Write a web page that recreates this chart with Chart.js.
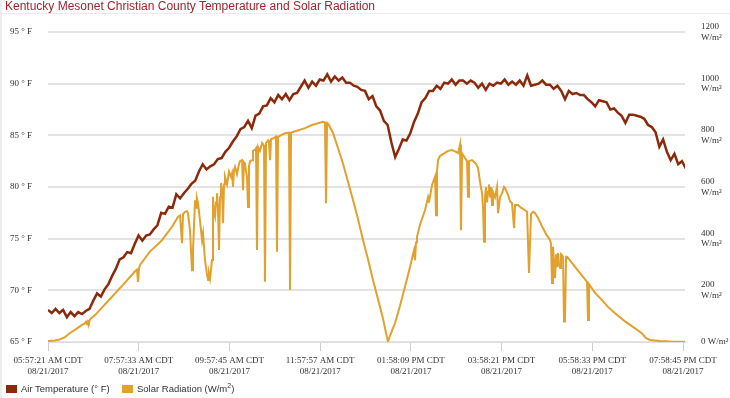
<!DOCTYPE html>
<html>
<head>
<meta charset="utf-8">
<title>Kentucky Mesonet Christian County Temperature and Solar Radiation</title>
<script src="https://cdn.jsdelivr.net/npm/chart.js@4.4.1/dist/chart.umd.min.js"></script>
<style>
  html, body { margin: 0; padding: 0; background: #fff; }
  #wrap { position: relative; width: 730px; height: 398px; overflow: hidden; }
  #edge { position: absolute; left: 0; top: 0; width: 2px; height: 398px; background: #eeeeee; }
  #title { position: absolute; left: 5px; top: -1px; font: 12px "Liberation Sans", Arial, sans-serif; color: #a3232f; white-space: nowrap; line-height: 14px; }
  #rule { position: absolute; left: 0; top: 13px; width: 730px; height: 1px; background: #ececec; }
  canvas { position: absolute; left: 0; top: 0; }
  .key { position: absolute; top: 383px; font: 9.5px "Liberation Sans", Arial, sans-serif; color: #333; white-space: nowrap; line-height: 12px; }
  .key span { display: inline-block; width: 11px; height: 8px; margin-right: 4px; vertical-align: -1px; }
</style>
</head>
<body>
<div id="wrap">
  <canvas id="chart" width="730" height="398"></canvas>
  <div id="edge"></div>
  <div id="title">Kentucky Mesonet Christian County Temperature and Solar Radiation</div>
  <div id="rule"></div>
  <div class="key" style="left:6px"><span style="background:#8b2a0b"></span>Air Temperature (° F)</div>
  <div class="key" style="left:122px"><span style="background:#e2a02c"></span>Solar Radiation (W/m<sup style="font-size:7px;line-height:0">2</sup>)</div>
</div>
<script>
// Minutes after 05:57:21 AM CDT on 08/21/2017 (eclipse day)
const xTickMinutes = [0, 120.2, 240.4, 360.6, 480.8, 601.0, 721.2, 841.4];
const xTickTimes = ["05:57:21 AM CDT", "07:57:33 AM CDT", "09:57:45 AM CDT", "11:57:57 AM CDT",
                    "01:58:09 PM CDT", "03:58:21 PM CDT", "05:58:33 PM CDT", "07:58:45 PM CDT"];
const xTickDate = "08/21/2017";

// Air temperature (° F), one reading every 5 minutes
const tempStep = 5;
const tempValues = [
  68.1, 67.8, 68.2, 67.8, 68.1, 67.4, 67.9, 67.5, 67.9, 67.7,
  68.0, 68.2, 69.0, 69.7, 69.4, 70.1, 70.6, 71.4, 72.1, 73.0,
  73.2, 73.7, 73.6, 74.5, 75.3, 74.8, 75.3, 75.4, 75.9, 76.3,
  77.5, 77.4, 78.1, 78.0, 79.3, 78.9, 79.4, 79.8, 80.3, 80.6,
  81.5, 82.2, 81.7, 82.0, 82.2, 82.7, 82.8, 83.4, 83.8, 84.4,
  84.9, 85.6, 85.8, 86.4, 85.7, 86.9, 87.1, 87.8, 87.9, 88.6,
  88.2, 88.9, 88.5, 89.0, 88.4, 89.0, 89.1, 89.7, 90.3, 89.6,
  90.2, 89.8, 90.4, 90.3, 90.9, 90.2, 90.7, 90.3, 90.6, 90.1,
  90.1, 89.8, 89.7, 89.4, 89.3, 88.5, 88.8, 87.8, 87.4, 86.4,
  86.0, 84.3, 82.9, 83.7, 84.6, 84.5, 85.2, 86.3, 87.1, 88.2,
  88.6, 89.3, 89.3, 89.8, 89.5, 90.1, 90.0, 90.4, 89.9, 90.3,
  90.3, 90.0, 90.3, 90.1, 89.6, 90.0, 89.4, 90.0, 89.8, 90.1,
  90.0, 90.4, 89.9, 90.2, 89.9, 90.3, 89.8, 90.8, 89.8, 89.9,
  90.0, 90.3, 89.9, 89.9, 89.5, 89.8, 89.3, 88.5, 89.3, 89.0,
  89.1, 88.9, 88.9, 88.5, 88.2, 87.8, 88.4, 88.3, 88.2, 87.5,
  87.6, 87.2, 86.9, 86.2, 87.0, 87.0, 86.9, 86.8, 86.6, 86.0,
  85.8, 85.3, 83.9, 84.6, 83.4, 82.6, 83.2, 82.2, 82.5, 81.8
];

// Solar radiation (W/m2): minute of each reading and its value
const solarMinutes = [
  0, 9.3, 15.9, 22.5, 29.2, 37.1, 45, 49, 50.4, 51.7, 53, 54.3, 55.7, 62.3, 84.8, 102,
  115.3, 117.9, 119.3, 120.6, 121.9, 135, 151, 164.3, 172.3, 174.9, 177.6, 178.9, 181.5, 184.2, 185.5,
  188.2, 190.8, 192.1, 194.8, 196.1, 197.4, 198.8, 201.4, 204.1, 205.4, 208, 209.4, 210.7, 212, 213.3,
  214.7, 216, 217.3, 218.6, 219.9, 221.3, 222.6, 223.9, 225.2, 226.6, 227.9, 229.2, 230.5, 231.9, 233.2,
  234.5, 237.2, 239.8, 242.5, 243.8, 245.1, 246.5, 247.8, 250.4, 253.1, 254.4, 257.1, 258.4, 259.7, 261,
  262.4, 263.7, 265, 266.3, 267.7, 270.3, 271.6, 274.3, 275.6, 276.9, 278.3, 280.9, 283.6, 286.2, 287.5,
  288.9, 291.5, 292.8, 294.2, 295.5, 299.5, 302.1, 303.4, 304.8, 310, 314, 319.3, 320.7, 322, 324.6,
  340.5, 349.8, 357.8, 364.4, 367, 368.4, 369.7, 371, 377.6, 384.3, 390.9, 397.5, 404.1, 410.8, 417.4,
  424, 430.6, 437.3, 443.9, 447.9, 450.5, 453.2, 459.8, 466.4, 473, 479.7, 483.6, 485, 486.3, 487.6,
  488.9, 492.9, 499.5, 503.5, 504.8, 508.8, 511.5, 512.8, 514.1, 515.4, 516.8, 519.4, 526, 530, 535.3,
  539.3, 543.3, 545.9, 547.2, 548.6, 552.5, 555.2, 556.5, 557.8, 561.8, 567.1, 569.8, 572.4, 575.1, 576.4,
  577.7, 579, 580.4, 581.7, 583, 584.3, 585.7, 587, 588.3, 589.6, 592.3, 594.9, 596.3, 598.9, 601.6,
  604.2, 605.5, 609.5, 612.2, 614.8, 617.5, 618.8, 622.8, 626.7, 632, 634.7, 637.3, 640, 642.6, 645.3,
  649.3, 655.9, 659.9, 665.2, 666.5, 667.8, 669.1, 670.5, 671.8, 673.1, 674.4, 675.8, 677.1, 678.4, 679.7,
  681, 682.4, 683.7, 685, 686.4, 687.7, 698.3, 706.2, 714.2, 715.5, 716.8, 724.8, 734.1, 742, 751.3,
  764.5, 777.8, 787.1, 792.4, 797.7, 811, 824.2, 844
];
const solarValues = [
  4, 6, 10, 19, 35, 50, 66, 72, 78, 70, 80, 74, 88, 104, 175, 230,
  274, 280, 233, 286, 298, 350, 394, 446, 485, 490, 383, 495, 504, 506, 499,
  430, 278, 350, 549, 520, 555, 537, 470, 394, 420, 317, 290, 260, 240, 265,
  245, 280, 317, 562, 500, 484, 540, 576, 520, 356, 560, 615, 590, 460, 610,
  640, 610, 660, 640, 653, 600, 665, 678, 650, 690, 700, 704, 588, 695, 690,
  660, 640, 523, 680, 700, 704, 740, 745, 750, 356, 755, 740, 770, 760, 233,
  770, 781, 775, 704, 785, 790, 795, 349, 794, 803, 808, 810, 201, 810, 813,
  828, 840, 847, 852, 850, 537, 848, 845, 810, 750, 690, 620, 550, 475, 395,
  320, 240, 165, 90, 35, 2, 25, 73, 140, 214, 290, 340, 356, 317, 385,
  407, 455, 510, 560, 540, 607, 630, 640, 491, 660, 704, 720, 732, 740, 743,
  738, 732, 765, 433, 730, 712, 700, 562, 700, 704, 690, 673, 620, 576, 520,
  388, 560, 600, 540, 581, 610, 560, 600, 530, 580, 560, 600, 499, 560, 576,
  600, 596, 570, 545, 537, 441, 530, 530, 520, 510, 505, 267, 495, 504, 499,
  480, 440, 418, 394, 380, 228, 369, 300, 247, 340, 290, 344, 300, 286, 340,
  336, 330, 79, 80, 330, 330, 291, 262, 233, 85, 224, 190, 162, 136, 111,
  80, 53, 33, 15, 8, 4, 2, 1
];

const tempColor = "#8b2a0b";
const solarColor = "#e2a02c";
const tickFont = { family: "'Liberation Serif', 'Times New Roman', serif", size: 9, lineHeight: 1.2 };

document.addEventListener("DOMContentLoaded", function () {
  const tempPoints = tempValues.map((v, i) => ({ x: i * tempStep, y: v }));
  const solarPoints = solarMinutes.map((m, i) => ({ x: m, y: solarValues[i] }));

  new Chart(document.getElementById("chart"), {
    type: "line",
    data: {
      datasets: [
        {
          label: "Air Temperature (° F)",
          data: tempPoints,
          yAxisID: "yTemp",
          borderColor: tempColor,
          backgroundColor: tempColor,
          borderWidth: 2.5,
          pointRadius: 0,
          tension: 0
        },
        {
          label: "Solar Radiation (W/m²)",
          data: solarPoints,
          yAxisID: "ySolar",
          borderColor: solarColor,
          backgroundColor: solarColor,
          borderWidth: 2,
          pointRadius: 0,
          tension: 0
        }
      ]
    },
    options: {
      responsive: false,
      animation: false,
      layout: { padding: { top: 32, left: 0, right: 0, bottom: 0 } },
      plugins: {
        legend: { display: false },
        title: { display: false },
        tooltip: { enabled: false }
      },
      scales: {
        x: {
          type: "linear",
          min: 0,
          max: 844,
          afterBuildTicks: function (scale) {
            scale.ticks = xTickMinutes.map(v => ({ value: v }));
          },
          afterFit: function (scale) { scale.height = 56; },
          grid: { drawOnChartArea: false, drawTicks: true, tickLength: 9, color: "#cccccc" },
          border: { color: "#dddddd" },
          ticks: {
            autoSkip: false,
            maxRotation: 0,
            padding: 4,
            color: "#333",
            font: tickFont,
            callback: (value, index) => [xTickTimes[index], xTickDate]
          }
        },
        yTemp: {
          position: "left",
          min: 65,
          max: 95,
          afterFit: function (scale) { scale.width = 48; },
          grid: { color: "#e3e3e3", lineWidth: 2, drawTicks: false },
          border: { display: false },
          ticks: {
            stepSize: 5,
            padding: 16,
            color: "#333",
            font: tickFont,
            callback: v => v + " ° F"
          }
        },
        ySolar: {
          position: "right",
          min: 0,
          max: 1200,
          afterFit: function (scale) { scale.width = 45; },
          grid: { drawOnChartArea: false, drawTicks: false },
          border: { display: false },
          ticks: {
            stepSize: 200,
            padding: 16,
            color: "#333",
            font: tickFont,
            callback: v => v === 0 ? "0 W/m²" : [String(v), "W/m²"]
          }
        }
      }
    }
  });
});
</script>
</body>
</html>
